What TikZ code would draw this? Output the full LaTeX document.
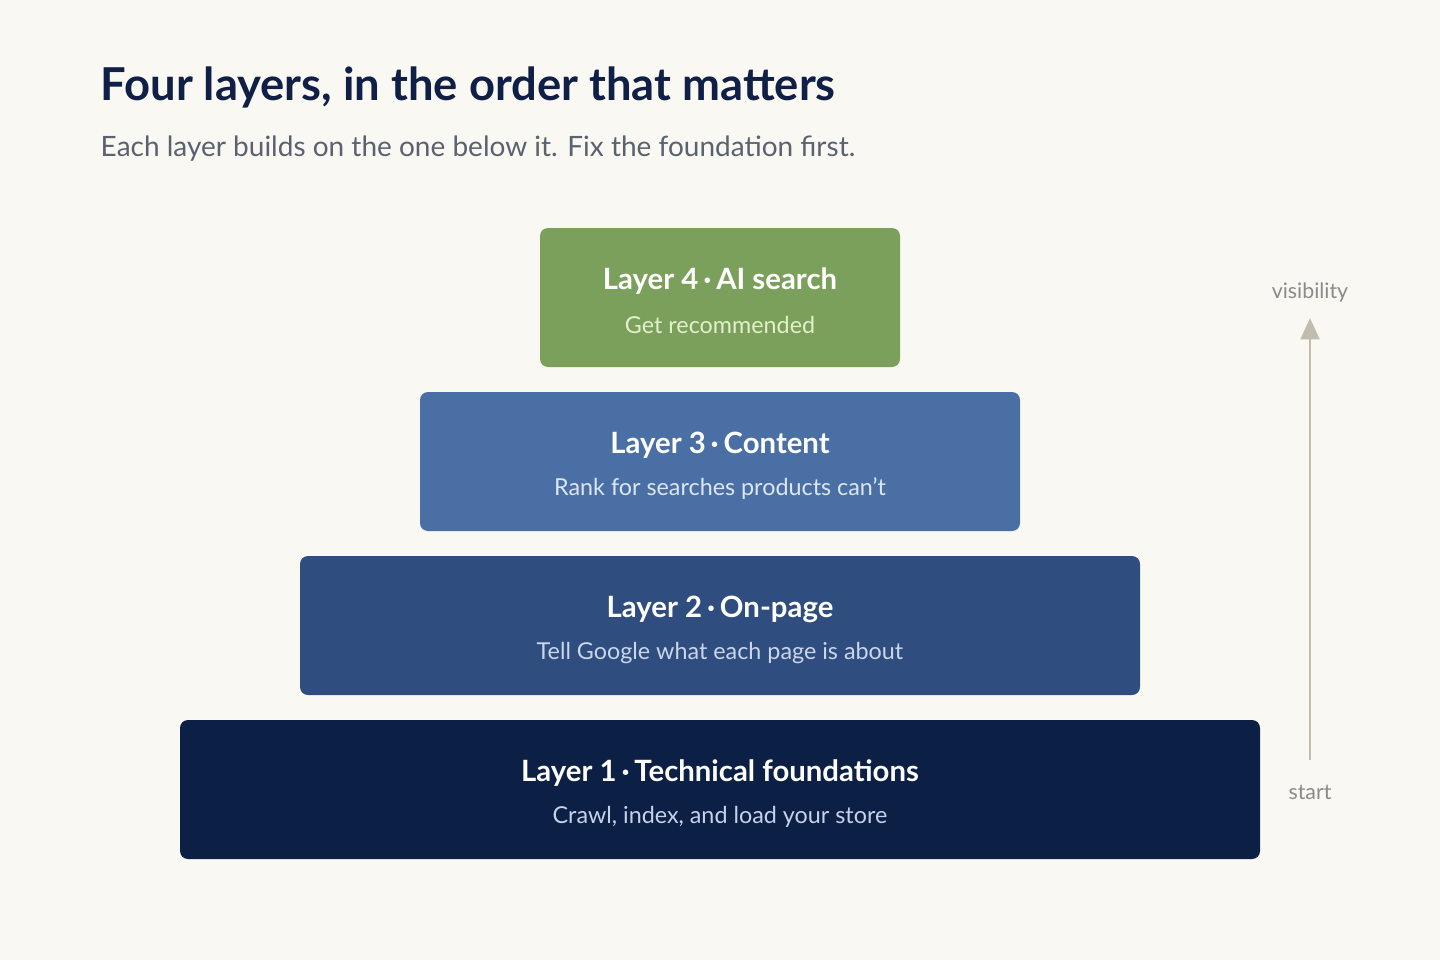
\documentclass[tikz,border=0pt]{standalone}
\usepackage{fontspec}
\setmainfont{Lato}
\usetikzlibrary{arrows.meta}
\definecolor{bg}{HTML}{FAF8F3}
\definecolor{ttl}{HTML}{0F1F45}
\definecolor{sub}{HTML}{5A6270}
\definecolor{gr}{HTML}{7BA05B}
\definecolor{grs}{HTML}{E4EFCB}
\definecolor{bthree}{HTML}{4A6FA5}
\definecolor{bthrees}{HTML}{DCE6F5}
\definecolor{btwo}{HTML}{2F4D7E}
\definecolor{btwos}{HTML}{C9D6EC}
\definecolor{navy}{HTML}{0C1F45}
\definecolor{navys}{HTML}{C5D2EA}
\definecolor{arr}{HTML}{C2BCAE}
\definecolor{lbl}{HTML}{8A8A8A}
\begin{document}
\begin{tikzpicture}[x=0.75pt,y=-0.75pt,
  box/.style={rounded corners=6pt,draw=none},
  head/.style={font=\fontsize{22}{26}\selectfont\bfseries,text=white},
  sb/.style={font=\fontsize{17.5}{21}\selectfont}]
\fill[bg] (0,0) rectangle (1440,960);
\useasboundingbox (0,0) rectangle (1440,960);
\node[anchor=base west,text=ttl,font=\fontsize{34}{40}\selectfont\bfseries] (t) at (96,100) {Four layers, in the order that matters};
\node[anchor=base west,text=sub,font=\fontsize{21}{25}\selectfont] (s) at (96,156) {Each layer builds on the one below it. Fix the foundation first.};
\fill[box,gr] (540,228) rectangle (900,367);
\fill[box,bthree] (420,392) rectangle (1020,531);
\fill[box,btwo] (300,556) rectangle (1140,695);
\fill[box,navy] (180,720) rectangle (1260,859);
\node[head] (h4) at (720,281) {Layer 4\,·\,AI search};
\node[sb,text=grs] (s4) at (720,325) {Get recommended};
\node[head] (h3) at (720,445) {Layer 3\,·\,Content};
\node[sb,text=bthrees] (s3) at (720,489) {Rank for searches products can't};
\node[head] (h2) at (720,609) {Layer 2\,·\,On-page};
\node[sb,text=btwos] (s2) at (720,653) {Tell Google what each page is about};
\node[head] (h1) at (720,773) {Layer 1\,·\,Technical foundations};
\node[sb,text=navys] (s1) at (720,817) {Crawl, index, and load your store};
\node[text=lbl,font=\fontsize{16}{19}\selectfont] (v) at (1310,292) {visibility};
\node[text=lbl,font=\fontsize{16}{19}\selectfont] (st) at (1310,792) {start};
\coordinate (a0) at (1310,760);
\coordinate (a1) at (1310,318);
\draw[arr,line width=2.2pt,-{Triangle[length=16pt,width=14pt]}] (a0) -- (a1);
\end{tikzpicture}
\end{document}
